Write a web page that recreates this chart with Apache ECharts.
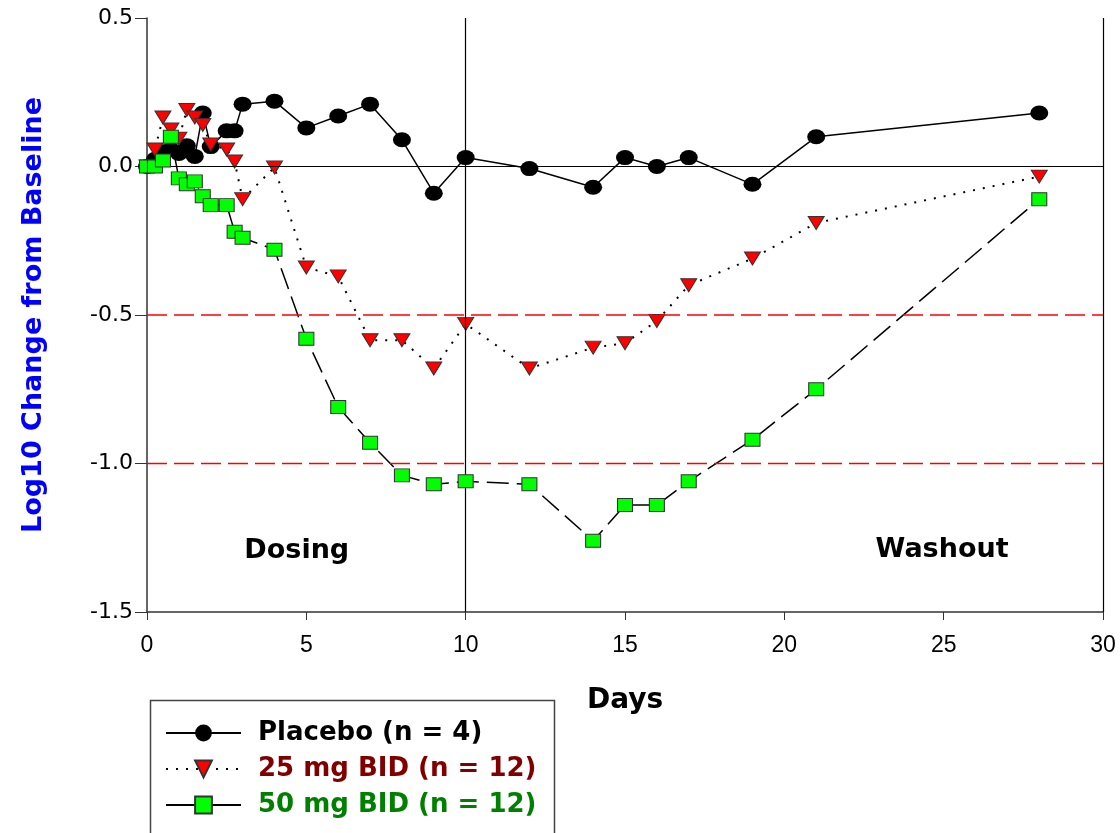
<!DOCTYPE html>
<html>
<head>
<meta charset="utf-8">
<script src="https://cdn.jsdelivr.net/npm/echarts@6/dist/echarts.min.js"></script>
<style>
  html, body { margin: 0; padding: 0; background: #fff; }
  #chart { width: 1120px; height: 833px; }
</style>
</head>
<body>
<div id="chart"></div>
<script>
// Sampling days (same schedule for all three arms)
const days = [0, 0.25, 0.5, 0.75, 1, 1.25, 1.5, 1.75, 2, 2.5, 2.75, 3, 4, 5, 6, 7, 8, 9, 10, 12, 14, 15, 16, 17, 19, 21, 28];

// Mean log10 change from baseline per arm
const placebo = [0, 0.024, 0.05, 0.057, 0.044, 0.07, 0.034, 0.18, 0.067, 0.12, 0.12, 0.21, 0.22, 0.13, 0.17, 0.21, 0.09, -0.09, 0.03, -0.007, -0.07, 0.03, 0.0, 0.03, -0.06, 0.10, 0.18];
const dose25 = [0, 0.057, 0.165, 0.125, 0.094, 0.19, 0.165, 0.14, 0.074, 0.057, 0.017, -0.11, -0.003, -0.34, -0.37, -0.585, -0.585, -0.68, -0.53, -0.68, -0.61, -0.595, -0.52, -0.40, -0.31, -0.19, -0.034];
const dose50 = [0, 0, 0.02, 0.10, -0.04, -0.06, -0.05, -0.10, -0.13, -0.13, -0.22, -0.24, -0.28, -0.58, -0.81, -0.93, -1.04, -1.07, -1.06, -1.07, -1.26, -1.14, -1.14, -1.06, -0.92, -0.75, -0.11];

const seriesNames = ['Placebo (n = 4)', '25 mg BID (n = 12)', '50 mg BID (n = 12)'];

// Axis ticks
const xTicks = [0, 5, 10, 15, 20, 25, 30];
const yTicks = [-1.5, -1.0, -0.5, 0.0, 0.5];

// Reference levels and the end of dosing
const thresholdLevels = [-0.5, -1.0];
const baselineLevel = 0;
const dosingEndDay = 10;

// Phase annotations
const phaseLabels = ['Dosing', 'Washout'];
const phaseX = [4.7, 24.95];
const phaseY = [-1.295, -1.29];

const pairs = (xs, ys) => xs.map((x, i) => [x, ys[i]]);
const xMin = xTicks[0];
const xMax = xTicks[xTicks.length - 1];

const chart = echarts.init(document.getElementById('chart'), null, { renderer: 'canvas' });

// horizontal red dashed threshold lines spanning the whole day range
const thresholdSeries = thresholdLevels.map((v, i) => ({
  name: 'threshold ' + i,
  type: 'line',
  data: [[xMin, v], [xMax, v]],
  symbol: 'none',
  silent: true,
  color: '#ff0000',
  itemStyle: { color: '#ff0000' },
  lineStyle: { color: '#ff0000', width: 1.5, type: [20, 7], opacity: 1 },
  emphasis: { disabled: true },
  z: 10
}));

const option = {
  backgroundColor: '#ffffff',
  animation: false,
  grid: { left: 147, right: 17, top: 18, bottom: 221 },
  xAxis: {
    type: 'value',
    min: xMin,
    max: xMax,
    interval: 5,
    name: 'Days',
    nameLocation: 'middle',
    nameGap: 75,
    nameTextStyle: { fontFamily: 'DejaVu Sans', fontWeight: 'bold', fontSize: 28, color: '#000' },
    axisLine: { show: true, onZero: false, lineStyle: { color: '#333', width: 1.5 } },
    axisTick: { show: true, inside: false, length: 8, lineStyle: { color: '#333', width: 1 } },
    axisLabel: { margin: 22, fontFamily: 'Liberation Sans', fontSize: 23, color: '#000' },
    splitLine: { show: false },
    splitArea: { show: false }
  },
  yAxis: {
    type: 'value',
    min: yTicks[0],
    max: yTicks[yTicks.length - 1],
    interval: 0.5,
    name: 'Log10 Change from Baseline',
    nameLocation: 'middle',
    nameRotate: 90,
    nameGap: 100,
    nameTextStyle: { fontFamily: 'DejaVu Sans', fontWeight: 'bold', fontSize: 27, color: '#0000ff' },
    axisLine: { show: true, onZero: false, lineStyle: { color: '#333', width: 1.5 } },
    axisTick: { show: true, inside: false, length: 12, lineStyle: { color: '#333', width: 1 } },
    axisLabel: { margin: 14, fontFamily: 'DejaVu Sans', fontSize: 22, color: '#000', formatter: v => v.toFixed(1) },
    splitLine: { show: false },
    splitArea: { show: false }
  },
  legend: {
    orient: 'vertical',
    left: 160,
    top: 715,
    itemWidth: 75,
    itemHeight: 21,
    itemGap: 10,
    symbolRotate: 'inherit',
    textStyle: { fontFamily: 'DejaVu Sans', fontWeight: 'bold', fontSize: 26, lineHeight: 26, padding: [0, 0, 0, 12] },
    data: [
      { name: seriesNames[0], textStyle: { color: '#000000' } },
      { name: seriesNames[1], textStyle: { color: '#800000' } },
      { name: seriesNames[2], textStyle: { color: '#008000' }, lineStyle: { type: 'solid' } }
    ]
  },
  graphic: [
    {
      type: 'rect',
      left: 148, top: 698,
      shape: { width: 404, height: 160 },
      style: { fill: 'none', stroke: '#444', lineWidth: 1.5 },
      z: 0
    }
  ],
  series: [
    ...thresholdSeries,
    {
      name: seriesNames[0],
      type: 'line',
      data: pairs(days, placebo),
      symbol: 'circle',
      symbolSize: [18, 15],
      itemStyle: { color: '#000000' },
      lineStyle: { color: '#000000', width: 1.5, type: 'solid' },
      z: 3,
      markLine: {
        silent: true,
        symbol: 'none',
        label: { show: false },
        animation: false,
        lineStyle: { color: '#000000', width: 1.2, type: 'solid' },
        data: [
          { yAxis: baselineLevel },
          { xAxis: dosingEndDay },
          { xAxis: xMax }
        ]
      }
    },
    {
      name: seriesNames[1],
      type: 'line',
      data: pairs(days, dose25),
      symbol: 'triangle',
      symbolRotate: 180,
      symbolSize: [16, 13],
      itemStyle: { color: '#ff0000', borderColor: '#333', borderWidth: 1 },
      lineStyle: { color: '#000000', width: 2, type: [2, 8] },
      z: 4
    },
    {
      name: seriesNames[2],
      type: 'line',
      data: pairs(days, dose50),
      symbol: 'rect',
      symbolSize: [15, 13],
      itemStyle: { color: '#00ff00', borderColor: '#333', borderWidth: 1 },
      lineStyle: { color: '#000000', width: 1.5, type: [22, 8] },
      z: 5
    },
    {
      name: 'phases',
      type: 'scatter',
      data: pairs(phaseX, phaseY).map((p, i) => ({ value: p, name: phaseLabels[i] })),
      symbolSize: 0,
      silent: true,
      itemStyle: { opacity: 1 },
      label: {
        show: true,
        position: 'inside',
        formatter: p => p.name,
        fontFamily: 'DejaVu Sans',
        fontWeight: 'bold',
        fontSize: 27,
        color: '#000000',
        opacity: 1
      },
      z: 2
    }
  ]
};

chart.setOption(option);
</script>
</body>
</html>
